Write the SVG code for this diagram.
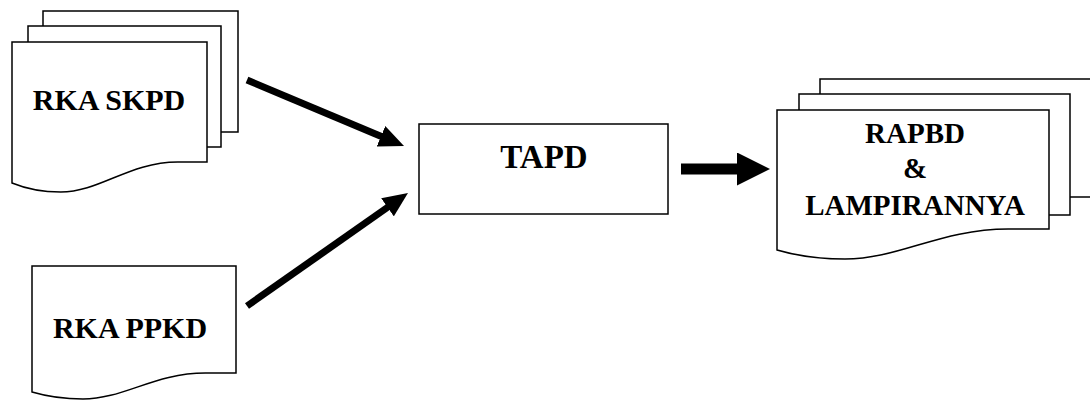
<svg xmlns="http://www.w3.org/2000/svg" width="1090" height="400" viewBox="0 0 1090 400">
<style>
.sheet{fill:#fff;stroke:#000;stroke-width:1.5;stroke-linejoin:miter}
.box{fill:#fff;stroke:#000;stroke-width:1.5}
.arr{stroke:#000;fill:none}
</style>
<defs>
<marker id="headS" viewBox="0 0 25 22" markerUnits="userSpaceOnUse" markerWidth="25" markerHeight="22" refX="5" refY="11" orient="auto">
<path d="M0,0 L25,11 L0,22 Z" fill="#000"/>
</marker>
<marker id="headL" viewBox="0 0 33 33" markerUnits="userSpaceOnUse" markerWidth="33" markerHeight="33" refX="5" refY="16.5" orient="auto">
<path d="M0,0 L33,16.5 L0,33 Z" fill="#000"/>
</marker>
</defs>
<g font-family="Liberation Serif, Times New Roman, serif" font-weight="bold" fill="#000" text-anchor="middle">
<g id="rka-skpd">
<path class="sheet" d="M43,11 H238 V132 L208.75,132 C160,132 130.75,162 91.75,162 C66.4,162 52.75,157 43,153 Z"/>
<path class="sheet" d="M28,26 H221 V147 L192,147 C143.8,147 114.85,177 76.25,177 C51.2,177 37.65,172 28,168 Z"/>
<path class="sheet" d="M12,42 H207 V162 L177.75,162 C129,162 99.75,192 60.75,192 C35.4,192 21.75,187 12,183 Z"/>
<text x="109" y="110" font-size="30">RKA SKPD</text>
</g>
<g id="rka-ppkd">
<path class="sheet" d="M32,266 H236 V373 L205.4,373 C154.4,373 123.8,399 83,399 C56.5,399 42.2,395 32,392 Z"/>
<text x="130" y="338" font-size="30">RKA PPKD</text>
</g>
<g id="tapd">
<rect class="box" x="419" y="124" width="249" height="90"/>
<text x="544" y="168" font-size="33">TAPD</text>
</g>
<g id="rapbd">
<path class="sheet" d="M820,79 H1092 V197 L1051,197 C983,197 942,227 888,227 C852,227 833,222 820,218 Z"/>
<path class="sheet" d="M799,94 H1070 V215 L1029,215 C961,215 921,245 867,245 C831,245 812,240 799,236 Z"/>
<path class="sheet" d="M777,110 H1049 V229 L1008.2,229 C940.2,229 899.4,259 845,259 C809.6,259 790.6,254 777,250 Z"/>
<text x="915" y="143" font-size="29">RAPBD</text>
<text x="915" y="178" font-size="29">&amp;</text>
<text x="915" y="215" font-size="29">LAMPIRANNYA</text>
</g>
</g>
<g id="connectors">
<line class="arr" x1="247" y1="80" x2="385.6" y2="138.2" stroke-width="7" marker-end="url(#headS)"/>
<line class="arr" x1="247" y1="306" x2="391.6" y2="204.5" stroke-width="7" marker-end="url(#headS)"/>
<line class="arr" x1="681" y1="169" x2="742" y2="169" stroke-width="11" marker-end="url(#headL)"/>
</g>
</svg>
